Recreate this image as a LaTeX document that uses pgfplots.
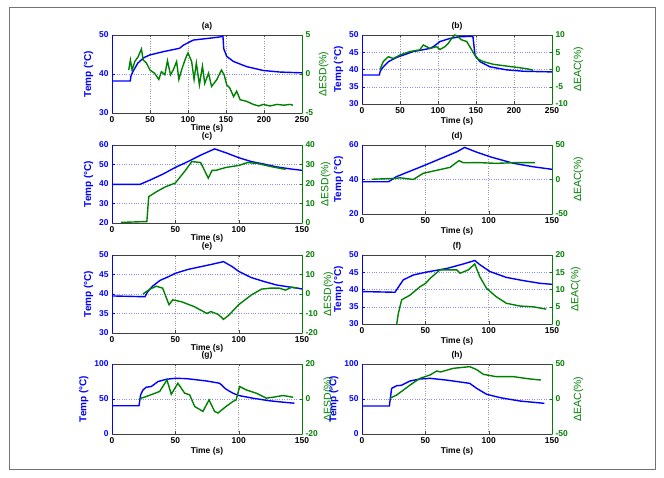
\documentclass[border=0pt]{standalone}
\usepackage{pgfplots}
\pgfplotsset{compat=1.18}
\usepackage{fontspec}
\setmainfont{Liberation Sans}
\definecolor{mblue}{RGB}{0,0,255}
\definecolor{mgreen}{RGB}{0,128,0}
\newcommand{\tf}{\bfseries\fontsize{8.5}{9.5}\selectfont}
\newcommand{\lf}{\bfseries\fontsize{10}{11}\selectfont}
\newcommand{\rf}{\fontsize{10.5}{11.5}\selectfont}
\pgfplotsset{
 common/.style={scale only axis, width=190bp, xmin=0, anchor=south west,
   /pgf/number format/assume math mode=true,
   tick align=inside, major tick length=2.5bp, clip=true},
 leftax/.style={common,
   separate axis lines,
   x axis line style={black!75, line width=0.5bp},
   y axis line style={mblue, line width=0.6bp},
   ytick pos=left, xtick pos=both,
   xtick style={black!75}, ytick style={mblue},
   xticklabel style={font=\tf, black},
   yticklabel style={font=\tf, mblue},
   grid=major,
   x grid style={dotted, black!40, line width=0.45bp},
   y grid style={dotted, mblue!45, line width=0.45bp},
   xlabel={Time (s)}, xlabel style={font=\tf, yshift=3bp},
   ylabel={Temp (°C)}, ylabel style={font=\lf, mblue, yshift=-1bp},
   title style={font=\tf, yshift=-5bp}},
 tall/.style={xlabel style={yshift=2bp}},
 rightax/.style={common,
   axis y line*=right, axis x line=none,
   axis line style={mgreen, line width=0.6bp},
   ytick style={mgreen},
   yticklabel style={font=\tf, mgreen},
   ylabel style={font=\rf, mgreen, yshift=1bp}},
 bl/.style={mblue, line width=1.4bp},
 gr/.style={mgreen, line width=1.4bp},
}
\begin{document}
\begin{tikzpicture}
\path[use as bounding box] (0,0) rectangle (664bp,478bp);
\draw[black!55, line width=0.6bp] (9bp,9bp) rectangle (655bp,471bp);

% (a)
\begin{axis}[leftax, tall, at={(112bp,365bp)}, height=78bp, xmax=250, ymin=30, ymax=50,
  ytick={30,40,50}, xtick={0,50,100,150,200,250}, title={(a)}]
\addplot[bl] coordinates {(0,38.2)(24,38.2)(25,39.5)(28,40.8)(34,42.8)(42,44.2)(50,44.9)(67,45.7)(89,46.6)(94,47.4)(100,48)(107,48.7)(125,49.1)(142,49.5)(146,49.7)(147,46.5)(151,44.5)(160,43.2)(177,41.9)(199,40.9)(221,40.5)(250,40.3)};
\end{axis}
\begin{axis}[rightax, at={(112bp,365bp)}, height=78bp, xmax=250, ymin=-5, ymax=5,
  ytick={-5,0,5}, ylabel={ΔESD(\%)}]
\addplot[gr] coordinates {(22,0.5)(24.2,1.8)(26.4,0.5)(30,1.6)(34.3,2.2)(38.7,3.2)(41,1.8)(45.3,1.4)(50,0.5)(56,0.1)(61.6,-0.7)(65,0.3)(69.5,-0.1)(73,1.7)(77,-0.1)(80.5,0.5)(85,1.6)(88,-0.7)(91.5,0.5)(96,1.8)(100,2.7)(104.8,1.6)(108,-0.7)(111,1.4)(115,-1.4)(119,1.0)(122,-1.2)(127,0.1)(131,-1.6)(138,-0.7)(144,0.5)(147.5,-0.1)(151,-1.4)(155,-1.8)(160,-2.9)(164,-2.2)(168.6,-3.3)(177,-3.5)(186,-3.9)(193,-4.1)(199,-3.9)(208,-4.1)(217,-3.9)(226,-4.0)(234,-3.9)(238,-4.0)};
\end{axis}

% (b)
\begin{axis}[leftax, at={(362bp,374bp)}, height=69bp, xmax=250, ymin=30, ymax=50,
  ytick={30,35,40,45,50}, xtick={0,50,100,150,200,250}, title={(b)}]
\addplot[bl] coordinates {(0,38.4)(22.8,38.4)(24,39.5)(28,40.8)(35,42.3)(45.6,43.5)(67.5,45.2)(89.5,46.1)(95,46.8)(102.6,48.1)(115.8,49.0)(129,49.5)(144,49.6)(146,49.5)(148.7,44.2)(155,42.3)(168,40.8)(190,39.9)(212,39.5)(230,39.4)(250,39.3)};
\end{axis}
\begin{axis}[rightax, at={(362bp,374bp)}, height=69bp, xmax=250, ymin=-10, ymax=10,
  ytick={-10,-5,0,5,10}, ylabel={ΔEAC(\%)}]
\addplot[gr] coordinates {(23.7,0.05)(28,2.3)(34.6,3.7)(41.2,3.2)(50,4.2)(63,5.2)(76,5.7)(80.7,7.1)(89.5,6.1)(98.2,6.6)(102.6,5.8)(109,6.6)(113.6,7.6)(118,9.0)(122,10)(124.6,9.8)(131,8.6)(137.8,8.1)(144.3,5.7)(151,3.2)(159.6,2.3)(172.8,1.5)(190,1.0)(208,0.5)(221,0.05)(225.4,-0.3)};
\end{axis}

% (c)
\begin{axis}[leftax, tall, at={(112bp,255bp)}, height=78bp, xmax=150, ymin=20, ymax=60,
  ytick={20,30,40,50,60}, xtick={0,50,100,150}, title={(c)}]
\addplot[bl] coordinates {(0,39.8)(22,39.8)(30,42)(40,45)(50,48.5)(60,51.5)(70,54.8)(81,58)(90,56)(100,53.5)(110,51.5)(120,50.2)(130,48.8)(140,47.8)(150,47)};
\end{axis}
\begin{axis}[rightax, at={(112bp,255bp)}, height=78bp, xmax=150, ymin=0, ymax=40,
  ytick={0,10,20,30,40}, ylabel={ΔESD(\%)}]
\addplot[gr] coordinates {(7,0.3)(25,0.7)(27.5,0.7)(29,13.5)(35,16)(42,18.5)(50,20.5)(58,27)(63,31.5)(70,31)(73,27)(76,23)(79,27)(82,27)(90,28.5)(100,29.5)(107,31)(115,30.5)(125,29)(133,28)(137,27.5)};
\end{axis}

% (d)
\begin{axis}[leftax, at={(362bp,264bp)}, height=69bp, xmax=150, ymin=20, ymax=60,
  ytick={20,40,60}, xtick={0,50,100,150}, title={(d)}]
\addplot[bl] coordinates {(0,38.7)(21,38.7)(27,41.6)(50,48.4)(75,56.1)(81,58.6)(90,56)(101,53.2)(119.5,49.4)(135,47.4)(150,45.9)};
\end{axis}
\begin{axis}[rightax, at={(362bp,264bp)}, height=69bp, xmax=150, ymin=-50, ymax=50,
  ytick={-50,0,50}, ylabel={ΔEAC(\%)}]
\addplot[gr] coordinates {(7.6,0.3)(27,1.7)(30,2.5)(40.5,0)(48.4,9)(69.5,17.6)(76.6,27.3)(80,24.3)(93,24.4)(106,23.4)(119.5,24.4)(136.6,24.4)};
\end{axis}

% (e)
\begin{axis}[leftax, tall, at={(112bp,145bp)}, height=78bp, xmax=150, ymin=30, ymax=50,
  ytick={30,35,40,45,50}, xtick={0,50,100,150}, title={(e)}]
\addplot[bl] coordinates {(0,39.5)(26,39.3)(28,40.5)(32,42)(38,43.5)(45,44.5)(50,45.3)(60,46.3)(70,47)(80,47.7)(88,48.3)(95,47)(100,45.8)(110,44.2)(120,43.2)(130,42.3)(140,41.8)(150,41.3)};
\end{axis}
\begin{axis}[rightax, at={(112bp,145bp)}, height=78bp, xmax=150, ymin=-20, ymax=20,
  ytick={-20,-10,0,10,20}, ylabel={ΔESD(\%)}]
\addplot[gr] coordinates {(24.5,0)(30,2.5)(35,4)(40,3)(45,-5.5)(48,-3)(55,-4)(65,-6.5)(75,-10)(78,-9)(84,-10.5)(88,-13)(92,-11)(100,-5.5)(110,-0.5)(118,2.5)(125,3)(132,3)(137,2)(142,3.5)(147,3)};
\end{axis}

% (f)
\begin{axis}[leftax, at={(362bp,154bp)}, height=69bp, xmax=150, ymin=30, ymax=50,
  ytick={30,35,40,45,50}, xtick={0,50,100,150}, title={(f)}]
\addplot[bl] coordinates {(0,39.4)(26,39.2)(32.6,42.8)(40.5,44.2)(50.3,45)(67,46.1)(80,47.4)(89,48.4)(93,47.2)(101,45.2)(114,43.5)(127,42.6)(140.5,41.8)(150,41.5)};
\end{axis}
\begin{axis}[rightax, at={(362bp,154bp)}, height=69bp, xmax=150, ymin=0, ymax=20,
  ytick={0,5,10,15,20}, ylabel={ΔEAC(\%)}]
\addplot[gr] coordinates {(27.4,0)(28.7,3.1)(31.3,7)(38,8.4)(45.8,10.8)(50.3,11.8)(53.7,13.2)(61.6,15.7)(74.7,15.7)(77.4,14.7)(84,15.7)(89,17.4)(93,13.7)(98.4,10.3)(106,7.9)(114,6)(124.7,5.2)(135,5)(145.5,4.3)};
\end{axis}

% (g)
\begin{axis}[leftax, at={(112bp,44bp)}, height=70bp, xmax=150, ymin=0, ymax=100,
  ytick={0,50,100}, xtick={0,50,100,150}, title={(g)}]
\addplot[bl] coordinates {(0,40.3)(21.3,40.3)(22.6,55.9)(24.5,63)(27,66.8)(31,67.8)(36.3,74.9)(43,78.2)(50,79.6)(58.7,79.1)(74.5,75.8)(85,72.5)(90,64)(95.5,58.3)(100,55)(111,51.2)(124.5,47.4)(137.6,45)(144,44)};
\end{axis}
\begin{axis}[rightax, at={(112bp,44bp)}, height=70bp, xmax=150, ymin=-20, ymax=20,
  ytick={-20,0,20}, ylabel={ΔESD(\%)}]
\addplot[gr] coordinates {(21.3,0.1)(27,1.4)(37.6,4.3)(43.4,10.9)(46.8,2.7)(52,9)(57.4,3.3)(61.3,2.4)(65.3,-4.3)(71.8,-7.1)(76.6,-0.5)(81,-7.1)(83.7,-8)(90,-4.3)(95.5,-1.4)(98,-0.5)(100.8,7.1)(106,5.2)(114,3.3)(121.8,0.5)(127,1)(135,2)(143,1)};
\end{axis}

% (h)
\begin{axis}[leftax, at={(362bp,44bp)}, height=70bp, xmax=150, ymin=0, ymax=100,
  ytick={0,50,100}, xtick={0,50,100,150}, title={(h)}]
\addplot[bl] coordinates {(0,40)(21.6,40)(23.4,65.2)(27.4,69)(31,69.5)(37.9,75.7)(45.8,78.6)(53.7,79.5)(66.8,77)(85,72.4)(90.5,65.2)(98.4,56.7)(109,51.9)(124.7,47.1)(144,43.8)};
\end{axis}
\begin{axis}[rightax, at={(362bp,44bp)}, height=70bp, xmax=150, ymin=-50, ymax=50,
  ytick={-50,0,50}, ylabel={ΔEAC(\%)}]
\addplot[gr] coordinates {(22,1)(27.4,5.7)(38,20)(45.8,29.5)(53.7,34.3)(59,40)(62,38.6)(72,43.8)(85,46.2)(90.5,42)(95.8,35.2)(106,31.9)(119.5,31.9)(132.6,28.6)(141.3,27.1)};
\end{axis}
\end{tikzpicture}
\end{document}
